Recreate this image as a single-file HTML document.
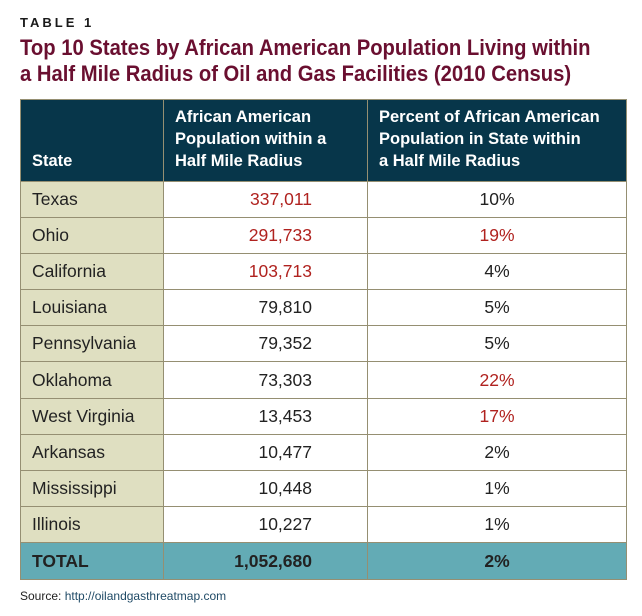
<!DOCTYPE html>
<html><head><meta charset="utf-8"><style>
body{margin:0;width:642px;height:616px;background:#fff;position:relative;font-family:"Liberation Sans Narrow","Liberation Sans",sans-serif;overflow:hidden}
.lbl{position:absolute;left:20px;top:15px;font:bold 13px "Liberation Sans",sans-serif;letter-spacing:3px;color:#1a1a1a}
.title{position:absolute;left:20px;top:35px;font-weight:bold;font-size:22px;line-height:26px;color:#6a0f30;white-space:nowrap;transform:scaleX(0.92);transform-origin:0 0}
table{position:absolute;left:20px;top:99px;border-collapse:collapse;width:607px}
td,th{border:1.5px solid #958f72;padding:0}
th{background:#07364a;color:#fff;font-size:16.5px;text-align:left;vertical-align:bottom;padding:0 0 9px 11px;line-height:22px;height:72px}
td{height:35.1px;font-size:17.5px;color:#222}
td.s{background:#dfdfc1;padding-left:11px;width:131px}
td.n{text-align:right;padding-right:55px;width:148px}
td.p{text-align:center}
.r{color:#b0221f}
tr.tot td{background:#63abb5;font-weight:bold;height:36.5px}
.src{position:absolute;left:20px;top:589px;font-size:12px;color:#222}
.src span{color:#1f4a66}
</style></head><body>
<div class="lbl">TABLE 1</div>
<div class="title">Top 10 States by African American Population Living within<br>a Half Mile Radius of Oil and Gas Facilities (2010 Census)</div>
<table>
<tr><th>State</th><th>African American<br>Population within a<br>Half Mile Radius</th><th>Percent of African American<br>Population in State within<br>a Half Mile Radius</th></tr>
<tbody id="rows"></tbody>
<tr class="tot"><td class="s" style="background:#63abb5">TOTAL</td><td class="n">1,052,680</td><td class="p">2%</td></tr>
</table>
<div class="src">Source: <span>http://oilandgasthreatmap.com</span></div>
<script>
const states=["Texas","Ohio","California","Louisiana","Pennsylvania","Oklahoma","West Virginia","Arkansas","Mississippi","Illinois"];
const pops=["337,011","291,733","103,713","79,810","79,352","73,303","13,453","10,477","10,448","10,227"];
const pcts=["10%","19%","4%","5%","5%","22%","17%","2%","1%","1%"];
const popRed=[1,1,1,0,0,0,0,0,0,0];
const pctRed=[0,1,0,0,0,1,1,0,0,0];
const tb=document.getElementById('rows');
states.forEach((s,i)=>{
const tr=document.createElement('tr');


const a=document.createElement('td');a.className='s';a.textContent=s;


const b=document.createElement('td');b.className='n'+(popRed[i]?' r':'');b.textContent=pops[i];


const c=document.createElement('td');c.className='p'+(pctRed[i]?' r':'');c.textContent=pcts[i];


tr.append(a,b,c);tb.appendChild(tr);
});
</script>
</body></html>
